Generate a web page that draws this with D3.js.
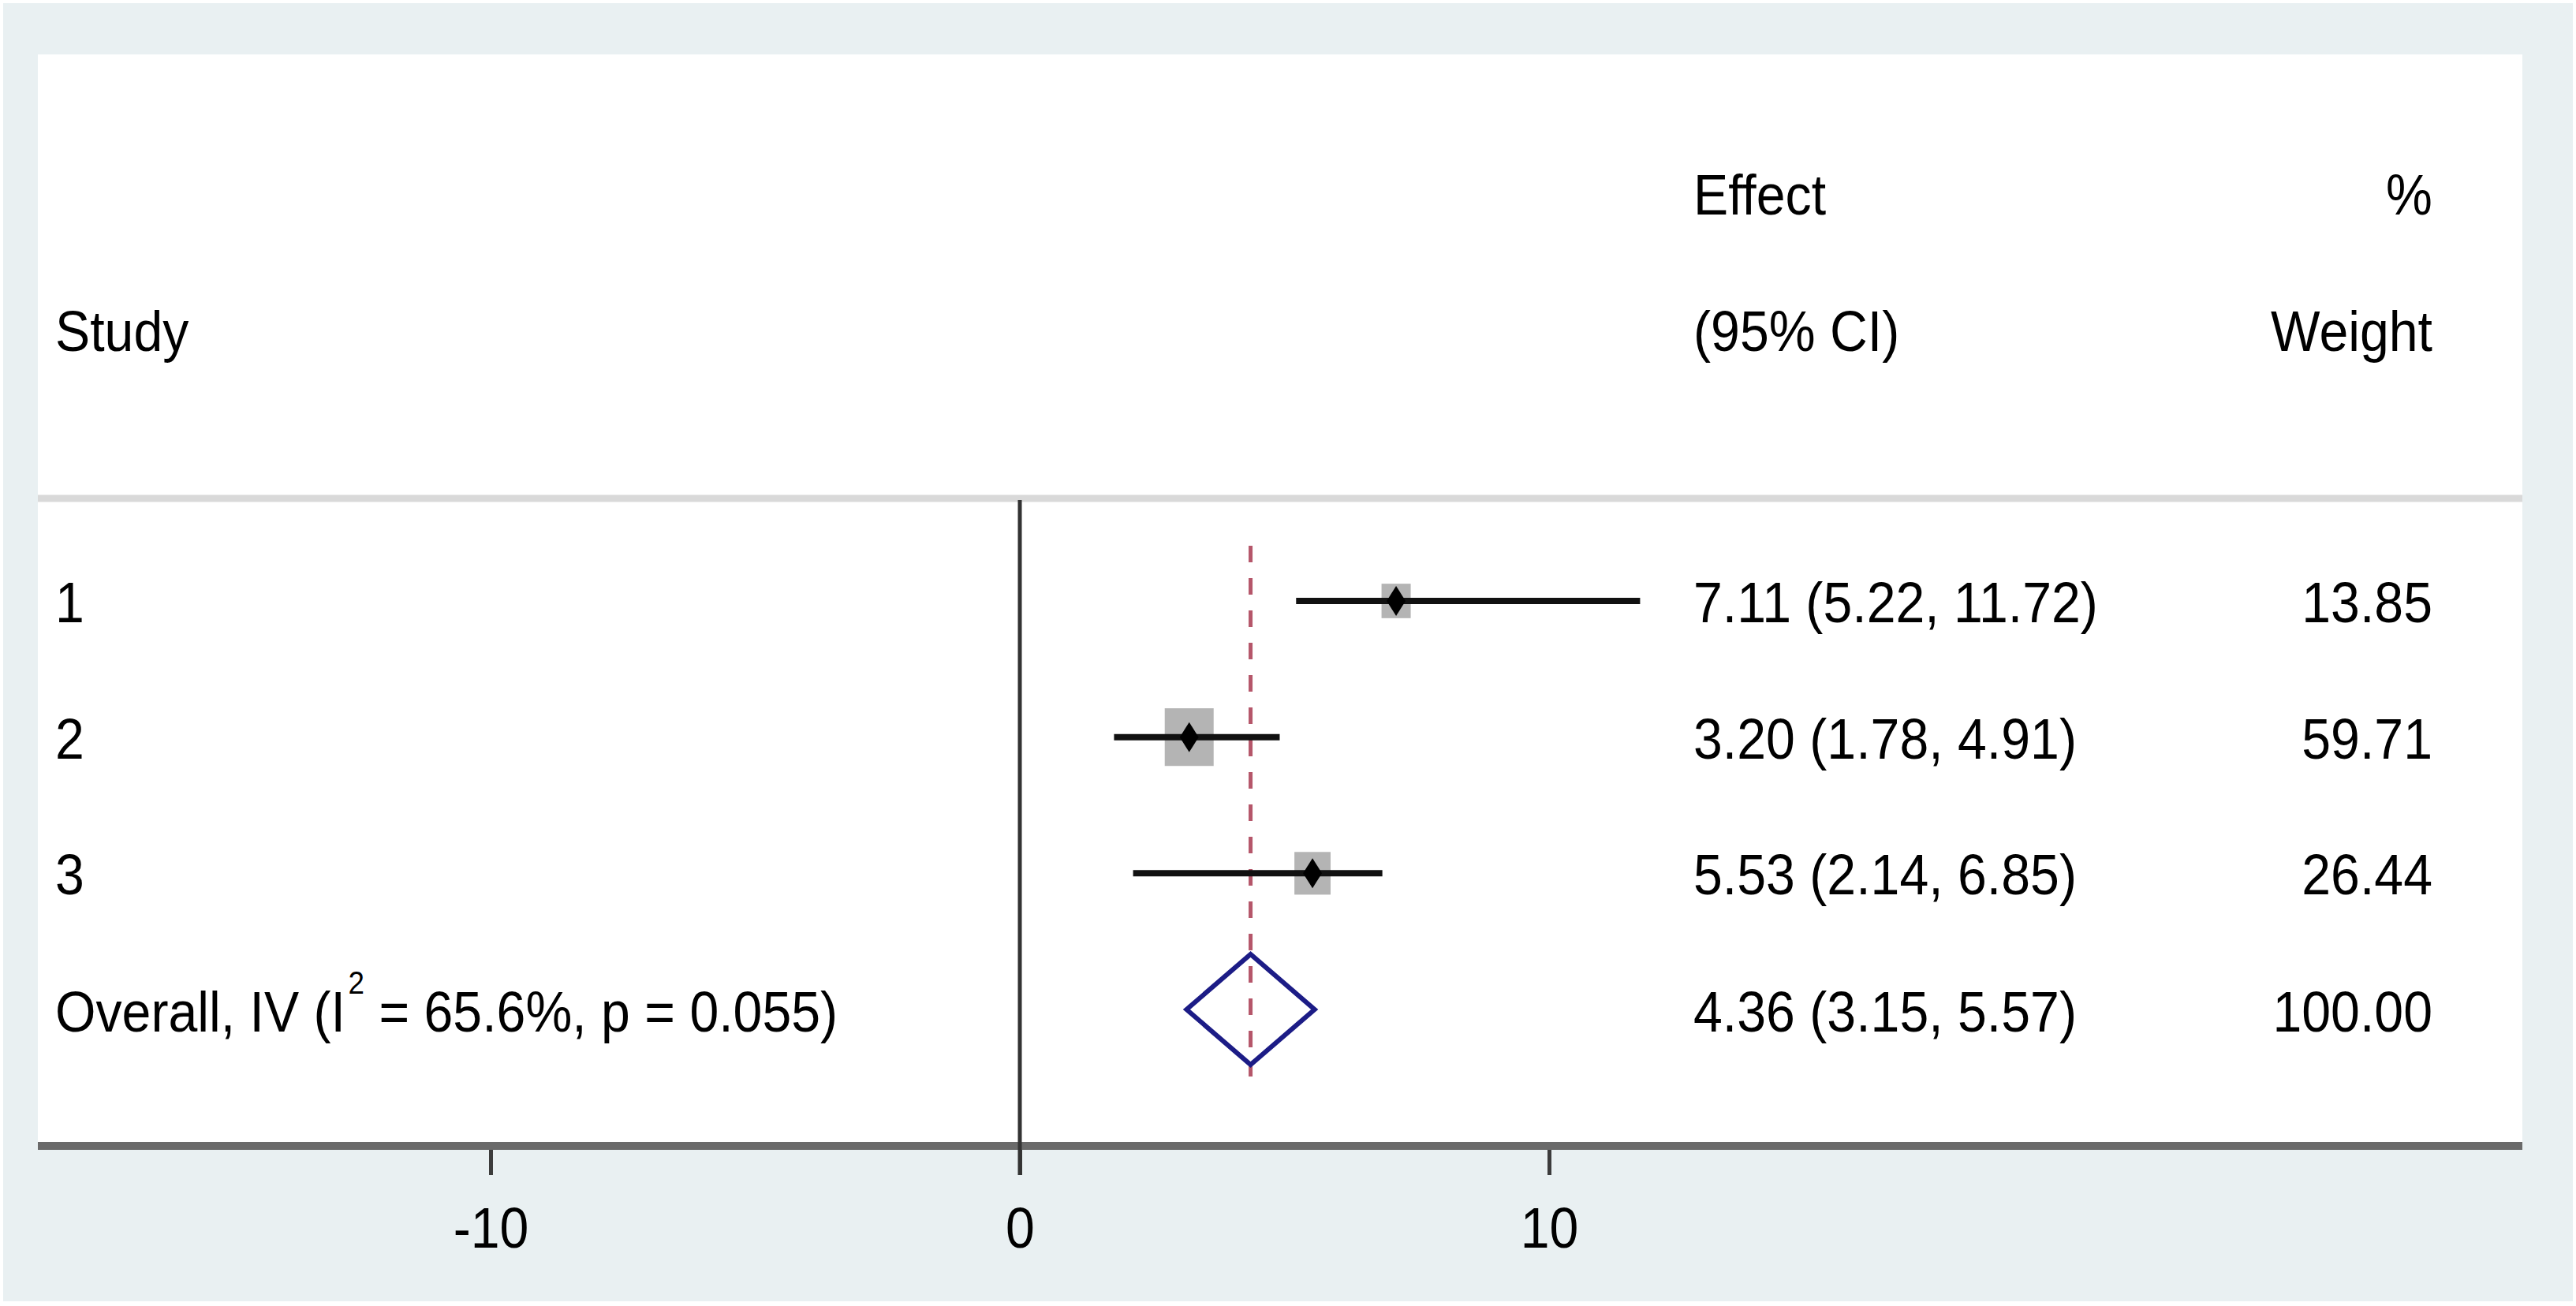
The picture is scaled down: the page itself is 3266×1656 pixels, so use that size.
<!DOCTYPE html>
<html>
<head>
<meta charset="utf-8">
<script src="https://cdn.jsdelivr.net/npm/d3@7"></script>
<style>
  html, body { margin: 0; padding: 0; background: #fff; }
  svg { display: block; }
  text { font-family: "Liberation Sans", Arial, sans-serif; fill: #000; }
</style>
</head>
<body>
<div id="chart"></div>
<script>
// data
const studies = ['1', '2', '3'];
const effects = [7.11, 3.20, 5.53];
const ciLow = [5.22, 1.78, 2.14];
const ciHigh = [11.72, 4.91, 6.85];
const weights = [13.85, 59.71, 26.44];

const overallEffect = 4.36;
const overallCI = [3.15, 5.57];
const overallWeight = 100;
const iSquared = 65.6;
const pHet = 0.055;

const xTicks = [-10, 0, 10];

// layout
const W = 3266;
const H = 1656;
const plot = { left: 48, top: 69, right: 3198, axisY: 1453 };
const sepY = 632;
const fontSize = 72;
const squeeze = 0.92; // the original text is slightly condensed

const svg = d3.select('#chart').append('svg')
    .attr('width', W)
    .attr('height', H);

// graph region + plot region
svg.append('rect')
    .attr('x', 4).attr('y', 4)
    .attr('width', W - 8).attr('height', H - 10)
    .attr('fill', '#e9f0f2');
svg.append('rect')
    .attr('x', plot.left).attr('y', plot.top)
    .attr('width', plot.right - plot.left).attr('height', plot.axisY - plot.top)
    .attr('fill', '#fff');

const x = d3.scaleLinear()
    .domain([-10, 10])
    .range([622, 1964]);

const rowKeys = [...studies, 'overall'];
const y = d3.scalePoint()
    .domain(rowKeys)
    .range([762, 1280]);

const boxW = d3.scaleSqrt()
    .domain([d3.min(weights), d3.max(weights)])
    .range([37, 62]);

const fmt = d3.format('.2f');

const text = (g, tx, ty, str, anchor = 'start') => g.append('text')
    .attr('transform', `translate(${tx},${ty}) scale(${squeeze},1)`)
    .attr('text-anchor', anchor)
    .attr('font-size', fontSize)
    .text(str);

// header separator
svg.append('line')
    .attr('x1', plot.left).attr('x2', plot.right)
    .attr('y1', sepY).attr('y2', sepY)
    .attr('stroke', '#d9d9d9')
    .attr('stroke-width', 9);

// headers
const colEffect = 2147;
const colWeight = 3084;
const colStudy = 70;
const head = svg.append('g');
text(head, colEffect, 272, 'Effect');
text(head, colWeight, 272, '%', 'end');
text(head, colStudy, 445, 'Study');
text(head, colEffect, 445, '(95% CI)');
text(head, colWeight, 445, 'Weight', 'end');

// x axis (plain hyphen for negatives, like the original)
const axisG = svg.append('g')
    .attr('transform', `translate(0,${plot.axisY + 5})`)
    .call(d3.axisBottom(x)
        .tickValues(xTicks)
        .tickSize(32)
        .tickPadding(41)
        .tickFormat((d) => String(d)));
axisG.select('.domain').remove();
axisG.selectAll('.tick line')
    .attr('stroke', '#3c3c3c')
    .attr('stroke-width', 5);
axisG.selectAll('.tick text')
    .attr('font-size', fontSize)
    .attr('font-family', '"Liberation Sans", Arial, sans-serif')
    .attr('fill', '#000')
    .attr('transform', `scale(${squeeze},1)`);

svg.append('line')
    .attr('x1', plot.left).attr('x2', plot.right)
    .attr('y1', plot.axisY).attr('y2', plot.axisY)
    .attr('stroke', '#6a6a6a')
    .attr('stroke-width', 10);

// no-effect line
svg.append('line')
    .attr('x1', x(0)).attr('x2', x(0))
    .attr('y1', sepY + 2).attr('y2', plot.axisY + 37)
    .attr('stroke', '#333')
    .attr('stroke-width', 5);

// overall effect dashed line
svg.append('line')
    .attr('x1', x(overallEffect)).attr('x2', x(overallEffect))
    .attr('y1', 692).attr('y2', 1365)
    .attr('stroke', '#b5566a')
    .attr('stroke-width', 5)
    .attr('stroke-dasharray', '21 20');

// study rows
const rows = studies.map((s, i) => ({
    key: s, est: effects[i], lo: ciLow[i], hi: ciHigh[i], w: weights[i],
}));

const rowG = svg.append('g').selectAll('g')
    .data(rows)
    .join('g');

rowG.append('rect')
    .attr('x', (d) => x(d.est) - boxW(d.w) / 2)
    .attr('y', (d) => y(d.key) - boxW(d.w) * 0.59)
    .attr('width', (d) => boxW(d.w))
    .attr('height', (d) => boxW(d.w) * 1.18)
    .attr('fill', '#b4b4b4');

rowG.append('line')
    .attr('x1', (d) => x(d.lo))
    .attr('x2', (d) => x(d.hi))
    .attr('y1', (d) => y(d.key))
    .attr('y2', (d) => y(d.key))
    .attr('stroke', '#111')
    .attr('stroke-width', 8);

rowG.append('path')
    .attr('d', (d) => {
        const cx = x(d.est);
        const cy = y(d.key);
        return `M${cx},${cy - 19}L${cx + 12},${cy}L${cx},${cy + 19}L${cx - 12},${cy}Z`;
    })
    .attr('fill', '#000');

rowG.each(function (d) {
    const g = d3.select(this);
    const by = y(d.key) + 27;
    text(g, colStudy, by, d.key);
    text(g, colEffect, by, `${fmt(d.est)} (${fmt(d.lo)}, ${fmt(d.hi)})`);
    text(g, colWeight, by, fmt(d.w), 'end');
});

// overall row
const oy = y('overall');
svg.append('path')
    .attr('d', `M${x(overallCI[0])},${oy}L${x(overallEffect)},${oy - 70}`
        + `L${x(overallCI[1])},${oy}L${x(overallEffect)},${oy + 70}Z`)
    .attr('fill', 'none')
    .attr('stroke', '#1c1c86')
    .attr('stroke-width', 6)
    .attr('stroke-linejoin', 'miter');

const ot = svg.append('text')
    .attr('transform', `translate(${colStudy},${oy + 28}) scale(${squeeze},1)`)
    .attr('font-size', fontSize);
ot.append('tspan').text('Overall, IV (I');
ot.append('tspan').attr('font-size', 40).attr('dx', 4).attr('dy', -48).text('2');
ot.append('tspan').attr('dy', 48).text(` = ${iSquared}%, p = ${pHet})`);

const og = svg.append('g');
text(og, colEffect, oy + 28, `${fmt(overallEffect)} (${fmt(overallCI[0])}, ${fmt(overallCI[1])})`);
text(og, colWeight, oy + 28, fmt(overallWeight), 'end');
</script>
</body>
</html>
